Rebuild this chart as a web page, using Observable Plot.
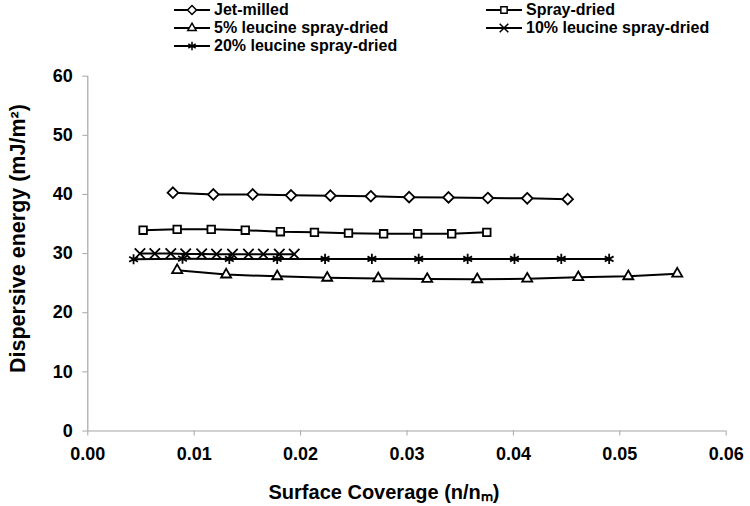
<!DOCTYPE html>
<html><head><meta charset="utf-8">
<script src="https://cdn.jsdelivr.net/npm/d3@7"></script>
<script src="https://cdn.jsdelivr.net/npm/@observablehq/plot@0.6"></script>
<style>
body{margin:0;background:#fff;font-family:"Liberation Sans",Arial,sans-serif;font-weight:bold;color:#000}
#legend{position:relative;height:60px;width:750px}
.item{position:absolute;display:flex;align-items:center;font-size:16px;line-height:18px;white-space:nowrap}
.item svg{margin-right:4px}
</style></head><body>
<div id="legend"></div>
<div id="chart"></div>
<script>
const seriesNames = ["Jet-milled","Spray-dried","5% leucine spray-dried","10% leucine spray-dried","20% leucine spray-dried"];
const symbolNames = ["diamond2","square2","triangle2","times","asterisk"];

const jetMilledX = [0.0080,0.0118,0.0155,0.0191,0.0228,0.0266,0.0302,0.0339,0.0376,0.0413,0.0451];
const jetMilledY = [40.3,40.0,40.0,39.85,39.8,39.7,39.55,39.5,39.4,39.35,39.2];
const sprayDriedX = [0.0052,0.0084,0.0116,0.0148,0.0181,0.0213,0.0245,0.0278,0.0310,0.0342,0.0375];
const sprayDriedY = [33.95,34.1,34.1,33.95,33.7,33.6,33.45,33.35,33.35,33.35,33.6];
const leu5X = [0.0084,0.0130,0.0178,0.0225,0.0273,0.0319,0.0366,0.0413,0.0461,0.0508,0.0554];
const leu5Y = [27.2,26.45,26.15,25.9,25.8,25.7,25.65,25.75,26.0,26.15,26.6];
const leu10X = [0.0049,0.0063,0.0078,0.0092,0.0107,0.0121,0.0136,0.0151,0.0165,0.0180,0.0194];
const leu10Y = [30.0,30.0,30.0,29.95,29.95,29.9,29.9,29.9,29.9,29.9,29.9];
const leu20X = [0.0043,0.0089,0.0133,0.0178,0.0223,0.0267,0.0311,0.0357,0.0401,0.0445,0.0490];
const leu20Y = [29.05,29.15,29.1,29.1,29.1,29.1,29.1,29.1,29.1,29.1,29.1];

const xTicks = [0, 0.01, 0.02, 0.03, 0.04, 0.05, 0.06];
const yTicks = [0, 10, 20, 30, 40, 50, 60];
const xTitle = "Surface Coverage (n/n\u2098)";
const yTitle = "Dispersive energy (mJ/m\u00b2)";

const seriesX = [jetMilledX, sprayDriedX, leu5X, leu10X, leu20X];
const seriesY = [jetMilledY, sprayDriedY, leu5Y, leu10Y, leu20Y];
const data = [];
seriesNames.forEach((name, i) => seriesX[i].forEach((x, j) => data.push({series: name, x, y: seriesY[i][j]})));

const font = '"Liberation Sans", Arial, sans-serif';
const axisGray = "#a6a6a6";

const chart = Plot.plot({
  width: 750, height: 446,
  marginTop: 15.7, marginBottom: 75.5, marginLeft: 87.3, marginRight: 24.3,
  style: {fontFamily: font, fontWeight: "bold", fontSize: "18px", background: "#fff", color: "#000"},
  x: {domain: [0, 0.06]},
  y: {domain: [0, 60]},
  symbol: {domain: seriesNames, range: symbolNames},
  marks: [
    Plot.ruleY([0], {stroke: axisGray, strokeWidth: 1.2}),
    Plot.ruleX([0], {stroke: axisGray, strokeWidth: 1.2}),
    Plot.axisX(xTicks, {tickFormat: d3.format(".2f"), tickSize: 5, tickPadding: 11, stroke: axisGray, fill: "#000", label: null, fontSize: 18}),
    Plot.axisY(yTicks, {tickSize: 5, tickPadding: 10, stroke: axisGray, fill: "#000", label: null, fontSize: 18}),
    Plot.line(data, {x: "x", y: "y", z: "series", stroke: "#000", strokeWidth: 2}),
    Plot.dot(data, {x: "x", y: "y", symbol: "series", stroke: "#000", fill: "#fff", strokeWidth: 1.8, r: 4.8}),
    Plot.text([xTitle], {frameAnchor: "bottom", textAnchor: "middle", lineAnchor: "middle", dy: 62, dx: -23, fontSize: 20, fontWeight: "bold"}),
    Plot.text([yTitle], {frameAnchor: "left", textAnchor: "middle", lineAnchor: "middle", rotate: -90, dx: -70, dy: -15, fontSize: 21.5, fontWeight: "bold"})
  ]
});
document.getElementById("chart").appendChild(chart);

// legend
const legendPos = [[174, 10], [486, 10], [174, 28], [486, 28], [174, 46]];
const d3sym = {diamond2: d3.symbolDiamond2, square2: d3.symbolSquare2, triangle2: d3.symbolTriangle2, times: d3.symbolTimes, asterisk: d3.symbolAsterisk};
const legend = d3.select("#legend");
seriesNames.forEach((name, i) => {
  const [lx, ly] = legendPos[i];
  const item = legend.append("div").attr("class", "item").style("left", lx + "px").style("top", (ly - 9) + "px");
  const s = item.append("svg").attr("width", 36).attr("height", 14);
  s.append("line").attr("x1", 0).attr("x2", 36).attr("y1", 7).attr("y2", 7).attr("stroke", "#000").attr("stroke-width", 1.8);
  s.append("path").attr("transform", "translate(18,7)").attr("d", d3.symbol(d3sym[symbolNames[i]], Math.PI * 16)())
    .attr("fill", "#fff").attr("stroke", "#000").attr("stroke-width", 1.5);
  item.append("span").text(name);
});
</script>
</body></html>
